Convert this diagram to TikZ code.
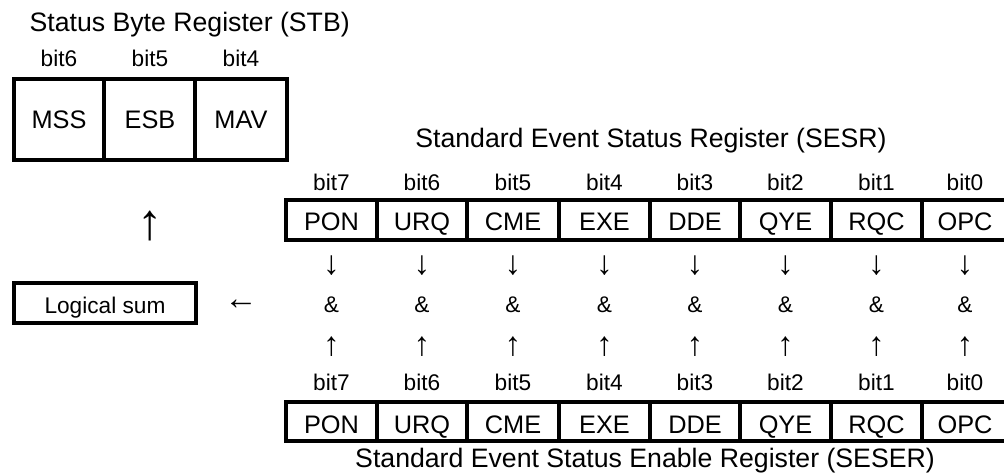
\documentclass[tikz,border=0pt]{standalone}
\usepackage{fontspec}
\setmainfont{Liberation Sans}

\begin{document}
\begin{tikzpicture}[x=0.75pt,y=-0.75pt,line width=2.4pt,
    regtitle/.style={anchor=base,inner sep=0pt,font=\fontsize{20}{24}\selectfont},
    bitlbl/.style={anchor=base,inner sep=0pt,font=\fontsize{17}{20}\selectfont},
    regcell/.style={anchor=base,inner sep=0pt,font=\fontsize{19}{23}\selectfont},
    arrowsym/.style={inner sep=0pt,font=\fontsize{25}{30}\selectfont},
    bigarrow/.style={inner sep=0pt,font=\fontsize{38}{44}\selectfont}]
\useasboundingbox (0,0) rectangle (1004,474);
% status byte register
\node[regtitle,anchor=base west] (stbtitle) at (28,32) {Status Byte Register (STB)};
\draw (14,79) rectangle (287,160); \draw (104,79) -- (104,160); \draw (195,79) -- (195,160);
\foreach \x/\b/\n/\nm in {59/6/MSS/mss,150/5/ESB/esb,241/4/MAV/mav} {
  \node[bitlbl] (stbbit\b) at (\x,67) {bit\b};
  \node[regcell] (\nm) at (\x,129) {\n};
}
\node[bigarrow] (uparr) at (150,226) {↑};
% logical sum
\draw (14,283) rectangle (196,323);
\node[bitlbl] (logsum) at (105,313) {Logical sum};
\node[arrowsym] (leftarr) at (241,305) {←};
% event status register and enable register
\node[regtitle] (sesrtitle) at (651,148) {Standard Event Status Register (SESR)};
\draw (286,200) rectangle (1008,240);
\draw (286,402) rectangle (1008,441);
\foreach \xl in {377,467,559,650,740,831,922} {
  \draw (\xl,200) -- (\xl,240); \draw (\xl,402) -- (\xl,441);
}
\foreach \x/\b/\n in {331.5/7/PON,422/6/URQ,513/5/CME,604.5/4/EXE,695/3/DDE,785.5/2/QYE,876.5/1/RQC,965/0/OPC} {
  \node[bitlbl] (sesrbit\b) at (\x,191) {bit\b};
  \node[regcell] (sesr\b) at (\x,231) {\n};
  \node[arrowsym] (dn\b) at (\x,266) {↓};
  \node[bitlbl] (and\b) at (\x,312) {\&};
  \node[arrowsym] (up\b) at (\x,347) {↑};
  \node[bitlbl] (seserbit\b) at (\x,390) {bit\b};
  \node[regcell] (seser\b) at (\x,433) {\n};
}
\node[regtitle] (sesertitle) at (645,467) {Standard Event Status Enable Register (SESER)};
\end{tikzpicture}
\end{document}
